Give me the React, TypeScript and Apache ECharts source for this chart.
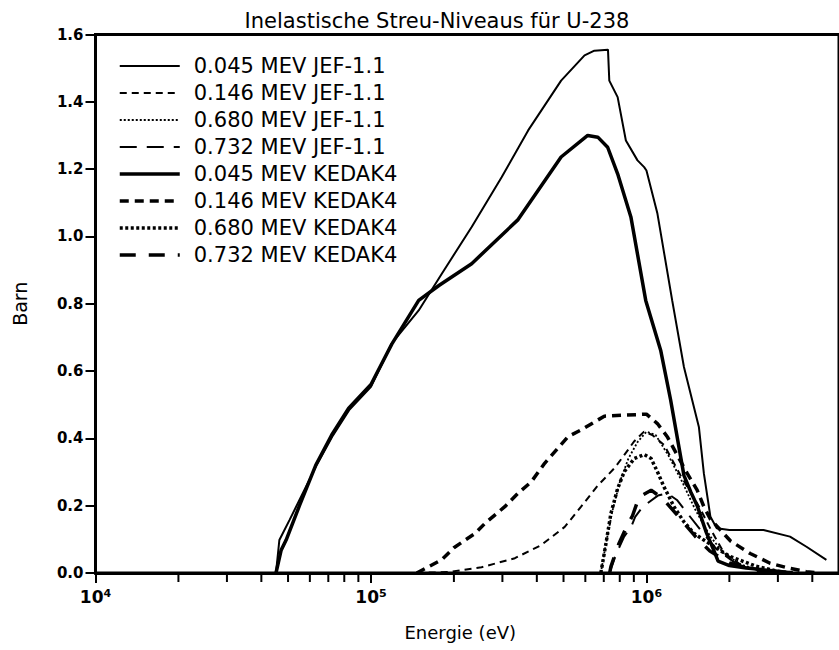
import React, { useEffect, useRef } from 'react';
import * as echarts from 'echarts';

// ---- texts ----
const TITLE = 'Inelastische Streu-Niveaus für U-238';
const X_NAME = 'Energie (eV)';
const Y_NAME = 'Barn';
const SERIES_NAMES = [
  '0.045 MEV JEF-1.1',
  '0.146 MEV JEF-1.1',
  '0.680 MEV JEF-1.1',
  '0.732 MEV JEF-1.1',
  '0.045 MEV KEDAK4',
  '0.146 MEV KEDAK4',
  '0.680 MEV KEDAK4',
  '0.732 MEV KEDAK4',
];

// ---- axes ----
const X_MIN = 1e4;
const X_MAX = 5e6;
const Y_MIN = 0;
const Y_MAX = 1.6;
const Y_STEP = 0.2;
const X_MINOR_TICKS = [
  2e4, 3e4, 4e4, 5e4, 6e4, 7e4, 8e4, 9e4,
  2e5, 3e5, 4e5, 5e5, 6e5, 7e5, 8e5, 9e5,
  2e6, 3e6, 4e6,
];

// ---- data: [energy eV, barn] ----
const jef045 = [
  [4.52e4, 0], [4.65e4, 0.098], [5.06e4, 0.157], [6.31e4, 0.316], [7.23e4, 0.405],
  [8.33e4, 0.484], [1.0e5, 0.553], [1.19e5, 0.682], [1.49e5, 0.78], [1.81e5, 0.89],
  [2.32e5, 1.028], [2.98e5, 1.176], [3.72e5, 1.315], [4.9e5, 1.463], [5.96e5, 1.538],
  [6.47e5, 1.552], [7.25e5, 1.555], [7.33e5, 1.463], [7.86e5, 1.414], [8.42e5, 1.285],
  [9.28e5, 1.226], [9.81e5, 1.206], [1.0e6, 1.196], [1.096e6, 1.068], [1.24e6, 0.81],
  [1.368e6, 0.612], [1.55e6, 0.434], [1.616e6, 0.296], [1.707e6, 0.167], [1.8e6, 0.133],
  [2.0e6, 0.128], [2.66e6, 0.128], [3.32e6, 0.108], [3.81e6, 0.078], [4.5e6, 0.039],
];
const jef146 = [
  [1.466e5, 0], [1.91e5, 0.003], [2.52e5, 0.017], [3.33e5, 0.044], [4.15e5, 0.083],
  [5.05e5, 0.137], [5.79e5, 0.197], [6.66e5, 0.26], [7.64e5, 0.311], [8.3e5, 0.35],
  [9.0e5, 0.39], [9.8e5, 0.42], [1.05e6, 0.41], [1.16e6, 0.38], [1.33e6, 0.29],
  [1.57e6, 0.19], [1.71e6, 0.13], [1.91e6, 0.06], [2.25e6, 0.019], [2.6e6, 0.005], [3.0e6, 0],
];
const jef680 = [
  [6.83e5, 0], [7.1e5, 0.08], [7.5e5, 0.18], [8.0e5, 0.27], [8.6e5, 0.34], [9.3e5, 0.39],
  [1.0e6, 0.42], [1.08e6, 0.41], [1.2e6, 0.35], [1.35e6, 0.27], [1.5e6, 0.19],
  [1.7e6, 0.11], [1.9e6, 0.06], [2.2e6, 0.025], [2.6e6, 0.008], [3.0e6, 0],
];
const jef732 = [
  [7.35e5, 0], [7.7e5, 0.05], [8.3e5, 0.108], [8.8e5, 0.137], [9.1e5, 0.167], [9.7e5, 0.197],
  [1.1e6, 0.23], [1.19e6, 0.237], [1.29e6, 0.217], [1.4e6, 0.18], [1.6e6, 0.12],
  [1.8e6, 0.07], [2.1e6, 0.03], [2.5e6, 0.01], [3.0e6, 0],
];
const kedak045 = [
  [4.52e4, 0], [4.72e4, 0.068], [4.92e4, 0.098], [5.5e4, 0.2], [6.3e4, 0.32],
  [7.2e4, 0.41], [8.3e4, 0.49], [1.0e5, 0.56], [1.19e5, 0.68], [1.49e5, 0.81],
  [1.77e5, 0.855], [2.32e5, 0.919], [3.42e5, 1.05], [4.9e5, 1.236], [6.12e5, 1.3],
  [6.66e5, 1.295], [7.23e5, 1.265], [7.86e5, 1.186], [8.78e5, 1.058], [9.94e5, 0.81],
  [1.126e6, 0.662], [1.224e6, 0.514], [1.368e6, 0.29], [1.45e6, 0.24], [1.528e6, 0.2],
  [1.65e6, 0.12], [1.75e6, 0.07], [1.82e6, 0.035], [2.0e6, 0.022], [2.3e6, 0.015],
  [3.0e6, 0.005], [3.4e6, 0],
];
const kedak146 = [
  [1.466e5, 0], [1.81e5, 0.04], [2.0e5, 0.075], [2.39e5, 0.118], [2.59e5, 0.147],
  [3.06e5, 0.197], [3.42e5, 0.237], [3.82e5, 0.271], [4.27e5, 0.326], [5.19e5, 0.405],
  [5.79e5, 0.425], [7.03e5, 0.466], [1.0e6, 0.472], [1.096e6, 0.444], [1.19e6, 0.405],
  [1.294e6, 0.35], [1.406e6, 0.296], [1.528e6, 0.246], [1.616e6, 0.197], [1.707e6, 0.16],
  [2.02e6, 0.095], [2.38e6, 0.058], [2.81e6, 0.029], [3.3e6, 0.014], [3.8e6, 0.004], [4.2e6, 0],
];
const kedak680 = [
  [6.83e5, 0], [7.13e5, 0.088], [7.43e5, 0.177], [7.86e5, 0.251], [8.31e5, 0.301],
  [9.03e5, 0.34], [9.81e5, 0.352], [1.04e6, 0.34], [1.096e6, 0.301], [1.158e6, 0.256],
  [1.259e6, 0.197], [1.368e6, 0.152], [1.487e6, 0.118], [1.616e6, 0.098], [2.0e6, 0.05],
  [2.5e6, 0.02], [3.0e6, 0.005], [3.4e6, 0],
];
const kedak732 = [
  [7.35e5, 0], [7.43e5, 0.019], [7.95e5, 0.088], [8.5e5, 0.14], [8.9e5, 0.17],
  [9.4e5, 0.226], [1.04e6, 0.246], [1.15e6, 0.22], [1.3e6, 0.17], [1.5e6, 0.11],
  [1.7e6, 0.065], [2.0e6, 0.03], [2.5e6, 0.008], [3.0e6, 0],
];

const SERIES_DATA = [jef045, jef146, jef680, jef732, kedak045, kedak146, kedak680, kedak732];

// ---- styles ----
const LINE_STYLES = [
  { width: 2, type: 'solid' as any },
  { width: 2, type: [7, 5] },
  { width: 1.8, type: [2, 2] },
  { width: 2, type: [17, 10] },
  { width: 3.5, type: 'solid' as any },
  { width: 3.5, type: [9, 6] },
  { width: 3.5, type: [3, 2.5] },
  { width: 3.5, type: [16, 13] },
];

const FONT = 'DejaVu Sans';

export default function App() {
  const ref = useRef<HTMLDivElement>(null);

  useEffect(() => {
    document.body.style.margin = '0';
    if (!ref.current) return;
    const chart = echarts.init(ref.current, null, { renderer: 'svg' });

    const lineSeries = SERIES_NAMES.map((name, i) => ({
      name,
      type: 'line',
      data: SERIES_DATA[i],
      symbol: 'none',
      showSymbol: false,
      smooth: false,
      clip: true,
      lineStyle: { color: '#000', width: LINE_STYLES[i].width, type: LINE_STYLES[i].type, cap: 'butt' },
      itemStyle: { color: '#000' },
      z: 3,
    }));

    const minorTickSeries = {
      name: 'minor ticks',
      type: 'custom',
      coordinateSystem: 'cartesian2d',
      clip: false,
      silent: true,
      data: X_MINOR_TICKS.map((v) => [v, 0]),
      encode: { x: 0, y: 1 },
      renderItem: (params: any, api: any) => {
        const p = api.coord([api.value(0), 0]);
        return {
          type: 'line',
          shape: { x1: p[0], y1: p[1], x2: p[0], y2: p[1] + 9 },
          style: { stroke: '#000', lineWidth: 2 },
        };
      },
      z: 2,
    };

    const option: any = {
      animation: false,
      backgroundColor: '#fff',
      textStyle: { fontFamily: FONT },
      grid: {
        left: 95.5,
        top: 34.5,
        bottom: 77,
        right: -4,
        show: true,
        borderColor: '#000',
        borderWidth: 3,
        backgroundColor: 'transparent',
      },
      graphic: [
        {
          type: 'text',
          x: 437,
          y: 21,
          style: {
            text: TITLE,
            fill: '#000',
            font: `21px "${FONT}"`,
            align: 'center',
            verticalAlign: 'middle',
          },
        },
      ],
      legend: {
        orient: 'vertical',
        left: 118,
        top: 55.5,
        padding: 0,
        itemGap: 6,
        itemWidth: 60,
        itemHeight: 14,
        selectedMode: false,
        itemStyle: { color: 'transparent', borderColor: 'transparent', borderWidth: 0, opacity: 0 },
        textStyle: {
          fontFamily: FONT,
          fontSize: 21,
          lineHeight: 21,
          color: '#000',
          padding: [0, 0, 0, 9],
        },
        data: SERIES_NAMES.map((name, i) => ({
          name,
          itemStyle: { color: 'transparent', borderColor: 'transparent', borderWidth: 0, opacity: 0 },
          lineStyle: { color: '#000', width: LINE_STYLES[i].width, type: LINE_STYLES[i].type, opacity: 1 },
        })),
      },
      xAxis: {
        type: 'log',
        logBase: 10,
        min: X_MIN,
        max: X_MAX,
        splitNumber: 3,
        name: X_NAME,
        nameLocation: 'middle',
        nameGap: 50,
        nameTextStyle: { fontFamily: FONT, fontSize: 18, color: '#000', padding: [0, 14, 0, 0] },
        axisLine: { show: true, lineStyle: { color: '#000', width: 3 } },
        axisTick: { show: true, length: 10, inside: false, lineStyle: { color: '#000', width: 2 } },
        splitLine: { show: false },
        minorTick: { show: false },
        axisLabel: {
          margin: 15,
          showMaxLabel: false,
          color: '#000',
          formatter: (v: number) => {
            const e = Math.log10(v);
            const r = Math.round(e);
            if (Math.abs(e - r) > 1e-6) return '';
            return `{b|10}{s|${r}}`;
          },
          rich: {
            b: { fontFamily: FONT, fontSize: 17, fontWeight: 'bold', color: '#000', verticalAlign: 'bottom' },
            s: { fontFamily: FONT, fontSize: 11, fontWeight: 'bold', color: '#000', verticalAlign: 'top', padding: [0, 0, 6, 0] },
          },
        },
      },
      yAxis: {
        type: 'value',
        min: Y_MIN,
        max: Y_MAX,
        interval: Y_STEP,
        name: Y_NAME,
        nameLocation: 'middle',
        nameGap: 66,
        nameTextStyle: { fontFamily: FONT, fontSize: 19, color: '#000' },
        axisLine: { show: true, lineStyle: { color: '#000', width: 3 } },
        axisTick: { show: true, length: 10, inside: false, lineStyle: { color: '#000', width: 2 } },
        splitLine: { show: false },
        axisLabel: {
          margin: 12,
          color: '#000',
          fontFamily: FONT,
          fontSize: 15,
          fontWeight: 'bold',
          formatter: (v: number) => v.toFixed(1),
        },
      },
      series: [...lineSeries, minorTickSeries],
    };

    chart.setOption(option);
    return () => chart.dispose();
  }, []);

  return <div ref={ref} style={{ width: 839, height: 650 }} />;
}
